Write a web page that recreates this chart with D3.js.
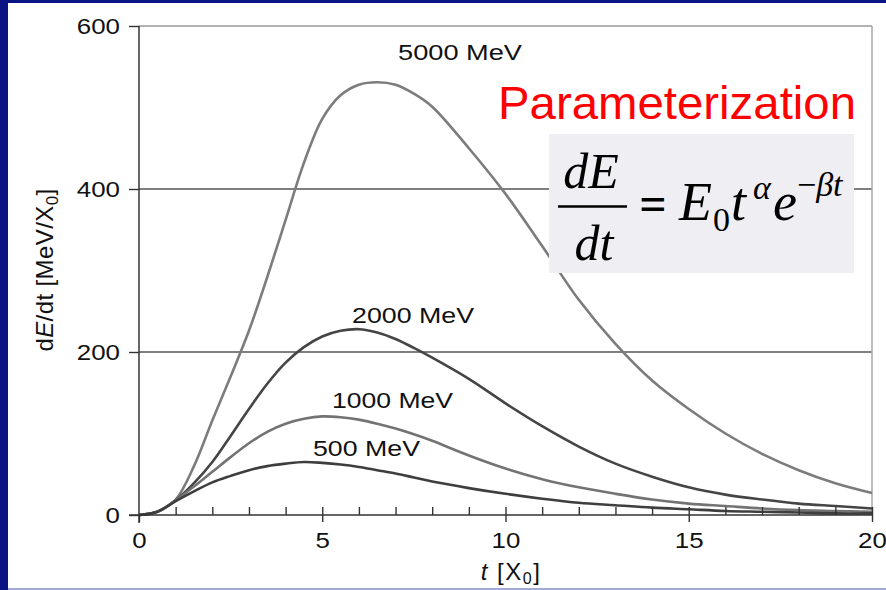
<!DOCTYPE html>
<html>
<head>
<meta charset="utf-8">
<script src="https://cdn.jsdelivr.net/npm/d3@7"></script>
<style>
  body { margin: 0; background: #0a1482; }
  svg { display: block; }
</style>
</head>
<body>
<svg id="chart" width="886" height="590"></svg>
<script>
// shower depth in radiation lengths
const tValues = [0, 0.5, 1, 1.5, 2, 2.5, 3, 3.5, 4, 4.5, 5, 5.5, 6, 6.5, 7, 7.5, 8, 9, 10, 11, 12, 13, 14, 15, 16, 17, 18, 19, 20];

// dE/dt [MeV/X0]
const e5000 = [0, 4, 19, 60, 116, 170, 226, 292, 362, 432, 486, 515, 528, 531, 528, 517, 501, 450, 394, 330, 264, 210, 165, 130, 100, 75, 55, 39, 27];
const e2000 = [0, 4, 18, 39, 65, 97, 130, 161, 187, 206, 219, 226, 228, 224, 216, 205, 193, 167, 137, 109, 84, 63, 47, 34, 25, 19, 14, 11, 8];
const e1000 = [0, 4, 18, 35, 53, 71, 88, 102, 112, 118, 121, 120, 117, 112, 106, 99, 91, 73, 57, 44, 34, 26, 19, 14, 11, 8, 6, 5, 4];
const e500 = [0, 4, 17, 29, 40, 48, 55, 60, 63, 65, 64, 62, 59, 55, 51, 46, 41, 33, 26, 20, 15, 12, 9, 7, 5, 4, 3, 2, 2];

const seriesNames = ["5000 MeV", "2000 MeV", "1000 MeV", "500 MeV"];
const yTicks = [0, 200, 400, 600];
const xTicks = [0, 5, 10, 15, 20];

(function() {
    const svg = d3.select("#chart");

    // slide background + white picture area
    svg.append("rect").attr("width", 886).attr("height", 590).attr("fill", "#0a1482");
    svg.append("rect").attr("x", 8).attr("y", 3).attr("width", 878).attr("height", 585).attr("fill", "#fff");
    svg.append("rect").attr("x", 8).attr("y", 588).attr("width", 878).attr("height", 2).attr("fill", "#a4aad6");

    const x = d3.scaleLinear().domain([0, 20]).range([139, 872]);
    const y = d3.scaleLinear().domain([0, 600]).range([515, 26]);

    const series = [
        { name: seriesNames[0], values: e5000, color: "#7c7c7c", lx: 398, ly: 60, len: 124 },
        { name: seriesNames[1], values: e2000, color: "#454545", lx: 352, ly: 323, len: 122 },
        { name: seriesNames[2], values: e1000, color: "#737373", lx: 332, ly: 408, len: 121 },
        { name: seriesNames[3], values: e500, color: "#3e3e3e", lx: 313, ly: 456, len: 107 }
    ];

    // grid lines
    svg.append("g").selectAll("line")
        .data(yTicks.filter(v => v > 0))
        .enter().append("line")
        .attr("x1", x(0)).attr("x2", x(20))
        .attr("y1", d => y(d)).attr("y2", d => y(d))
        .attr("stroke", d => d === 600 ? "#9a9a9a" : "#555")
        .attr("stroke-width", 1.5);

    svg.append("line")
        .attr("x1", x(20)).attr("x2", x(20))
        .attr("y1", y(600)).attr("y2", y(0))
        .attr("stroke", "#a8a8a8").attr("stroke-width", 1.5);

    // curves
    const line = d3.line()
        .x((d, i) => x(tValues[i]))
        .y(d => y(d))
        .curve(d3.curveCatmullRom.alpha(0.5));

    svg.append("g").selectAll("path")
        .data(series)
        .enter().append("path")
        .attr("d", d => line(d.values))
        .attr("fill", "none")
        .attr("stroke", d => d.color)
        .attr("stroke-width", 2.6);

    // y axis
    const yAxis = svg.append("g")
        .attr("transform", `translate(${x(0)},0)`)
        .call(d3.axisLeft(y).tickValues(yTicks).tickSize(10).tickPadding(9).tickSizeOuter(0));
    yAxis.select(".domain").remove();
    svg.append("line")
        .attr("x1", x(0)).attr("x2", x(0))
        .attr("y1", y(600)).attr("y2", y(0) + 8)
        .attr("stroke", "#333").attr("stroke-width", 1.5);

    // x axis: major ticks down, minor ticks up
    const xAxis = svg.append("g")
        .attr("transform", `translate(0,${y(0)})`)
        .call(d3.axisBottom(x).tickValues(xTicks).tickSize(7).tickPadding(10).tickSizeOuter(0));
    xAxis.select(".domain").remove();
    const xMinor = svg.append("g")
        .attr("transform", `translate(0,${y(0)})`)
        .call(d3.axisTop(x).tickValues(d3.range(1, 21)).tickSize(8).tickFormat(""));
    xMinor.select(".domain").remove();
    svg.append("line")
        .attr("x1", x(0) - 10).attr("x2", x(20))
        .attr("y1", y(0)).attr("y2", y(0))
        .attr("stroke", "#333").attr("stroke-width", 1.5);

    svg.selectAll(".tick line").attr("stroke", "#333").attr("stroke-width", 1.4);
    svg.selectAll(".tick text")
        .attr("fill", "#111")
        .style("font-family", "'Liberation Sans', Arial, sans-serif")
        .style("font-size", "22px")
        .attr("textLength", function() { return this.textContent.length * 14.4; })
        .attr("lengthAdjust", "spacingAndGlyphs");

    // curve labels
    svg.append("g").selectAll("text")
        .data(series)
        .enter().append("text")
        .attr("x", d => d.lx)
        .attr("y", d => d.ly)
        .attr("textLength", d => d.len)
        .attr("lengthAdjust", "spacingAndGlyphs")
        .attr("fill", "#111")
        .style("font-family", "'Liberation Sans', Arial, sans-serif")
        .style("font-size", "22px")
        .text(d => d.name);

    // axis titles
    const yTitle = svg.append("text")
        .attr("transform", "translate(53,270) rotate(-90)")
        .attr("text-anchor", "middle")
        .attr("fill", "#111")
        .style("font-family", "'Liberation Sans', Arial, sans-serif")
        .style("font-size", "24px")
        .style("letter-spacing", "0.4px");
    yTitle.append("tspan").text("d");
    yTitle.append("tspan").style("font-style", "italic").text("E");
    yTitle.append("tspan").text("/dt [MeV/X");
    yTitle.append("tspan").attr("dy", 5).style("font-size", "17px").text("0");
    yTitle.append("tspan").attr("dy", -5).text("]");

    const xTitle = svg.append("text")
        .attr("x", 511).attr("y", 580)
        .attr("text-anchor", "middle")
        .attr("fill", "#111")
        .style("font-family", "'Liberation Sans', Arial, sans-serif")
        .style("font-size", "24px")
        .style("letter-spacing", "1.5px");
    xTitle.append("tspan").style("font-style", "italic").text("t");
    xTitle.append("tspan").text(" [X");
    xTitle.append("tspan").attr("dy", 4).style("font-size", "16px").text("0");
    xTitle.append("tspan").attr("dy", -4).text("]");

    // parameterization note
    svg.append("text")
        .attr("x", 498).attr("y", 119)
        .attr("textLength", 358)
        .attr("lengthAdjust", "spacingAndGlyphs")
        .attr("fill", "#ff0000")
        .style("font-family", "'Liberation Sans', Arial, sans-serif")
        .style("font-size", "46px")
        .text("Parameterization");

    svg.append("rect")
        .attr("x", 549).attr("y", 134).attr("width", 305).attr("height", 139)
        .attr("fill", "#eeeef3");

    const serif = "'Liberation Serif', 'Times New Roman', serif";
    const f = svg.append("g").attr("fill", "#000").style("font-family", serif);

    f.append("text").attr("x", 591).attr("y", 188).attr("text-anchor", "middle")
        .style("font-style", "italic").style("font-size", "50px").text("dE");
    f.append("line").attr("x1", 558).attr("x2", 627).attr("y1", 206.5).attr("y2", 206.5)
        .attr("stroke", "#000").attr("stroke-width", 2.5);
    f.append("text").attr("x", 594).attr("y", 260).attr("text-anchor", "middle")
        .style("font-style", "italic").style("font-size", "50px").text("dt");
    f.append("text").attr("x", 653).attr("y", 220).attr("text-anchor", "middle")
        .style("font-size", "48px").style("font-weight", "bold").text("=");
    f.append("text").attr("x", 679).attr("y", 220)
        .style("font-style", "italic").style("font-size", "54px").text("E");
    f.append("text").attr("x", 713).attr("y", 231)
        .style("font-size", "34px").text("0");
    f.append("text").attr("x", 731).attr("y", 220)
        .style("font-style", "italic").style("font-size", "54px").text("t");
    f.append("text").attr("x", 753).attr("y", 199)
        .style("font-style", "italic").style("font-size", "34px").text("α");
    f.append("text").attr("x", 773).attr("y", 220)
        .style("font-style", "italic").style("font-size", "54px").text("e");
    const ex = f.append("text").attr("x", 797).attr("y", 196).style("font-size", "34px");
    ex.append("tspan").text("\u2212");
    ex.append("tspan").style("font-style", "italic").text("βt");
})();
</script>
</body>
</html>
